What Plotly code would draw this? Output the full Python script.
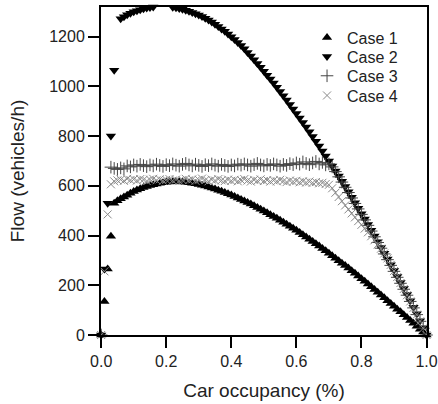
import plotly.graph_objects as go

occupancy = [round(i * 0.01, 2) for i in range(101)]

case1 = [0, 135, 265, 397, 530, 540, 548, 555, 562, 570,
         577, 583, 588, 593, 597, 601, 604, 607, 610, 612,
         614, 615, 616, 616, 616, 615, 614, 612, 610, 608,
         605, 602, 599, 595, 591, 587, 582, 578, 573, 568,
         563, 557, 551, 545, 539, 533, 527, 520, 513, 506,
         499, 492, 484, 477, 469, 461, 453, 445, 437, 429,
         421, 412, 403, 394, 385, 376, 367, 358, 348, 339,
         329, 319, 309, 299, 289, 279, 269, 258, 248, 237,
         226, 216, 205, 194, 183, 172, 161, 150, 138, 127,
         116, 104, 93, 81, 70, 58, 47, 35, 23, 12,
         0]

case2 = [0, 265, 530, 800, 1065, 1325, 1272, 1280, 1288, 1294,
         1300, 1304, 1308, 1312, 1315, 1317, 1319, 1320, 1321, 1321,
         1321, 1320, 1318, 1316, 1313, 1310, 1306, 1302, 1297, 1292,
         1287, 1281, 1274, 1267, 1259, 1250, 1241, 1231, 1221, 1210,
         1199, 1188, 1176, 1164, 1151, 1136, 1122, 1107, 1092, 1077,
         1061, 1045, 1029, 1013, 996, 979, 962, 945, 927, 909,
         891, 873, 855, 836, 817, 798, 779, 760, 740, 720,
         700, 680, 660, 639, 618, 597, 576, 554, 532, 510,
         488, 466, 444, 421, 398, 375, 352, 329, 306, 283,
         259, 235, 211, 187, 163, 138, 112, 85, 57, 29,
         0]

occupancy3 = [0.0] + occupancy[3:]
case3 = [0, 675, 670, 666, 672, 668, 680, 676,
         684, 679, 686, 681, 677, 684, 680, 687, 682, 678,
         685, 681, 688, 683, 679, 686, 690, 684, 680, 687,
         682, 678, 685, 681, 688, 683, 679, 686, 682, 678,
         684, 680, 687, 683, 688, 684, 679, 685, 690, 684,
         680, 686, 682, 688, 684, 679, 686, 682, 689, 685,
         692, 687, 696, 690, 685, 692, 698, 688, 694, 684,
         688, 676, 657, 636, 615, 594, 573, 551, 529, 507,
         485, 463, 441, 418, 395, 372, 349, 326, 303, 280,
         256, 232, 208, 184, 160, 135, 109, 82, 55, 27,
         0]

case4 = [0, 256, 485, 606, 618, 622, 625, 620, 628, 623,
         626, 621, 627, 624, 619, 625, 628, 622, 626, 620,
         624, 627, 621, 625, 619, 623, 628, 622, 626, 620,
         624, 629, 623, 618, 625, 621, 627, 622, 619, 625,
         620, 624, 618, 623, 627, 621, 617, 624, 620, 626,
         619, 623, 617, 622, 618, 624, 619, 615, 621, 617,
         620, 614, 618, 613, 617, 612, 615, 610, 612, 607,
         604, 590, 572, 555, 538, 521, 505, 489, 473, 458,
         443, 428, 413, 397, 381, 364, 347, 328, 308, 282,
         257, 233, 209, 185, 160, 135, 109, 82, 55, 27,
         0]

y_ticks = [0, 200, 400, 600, 800, 1000, 1200]
x_ticks = [0.0, 0.2, 0.4, 0.6, 0.8, 1.0]

FONT = "Liberation Sans, Arial, sans-serif"

fig = go.Figure()
fig.add_trace(go.Scatter(
    x=occupancy, y=case1, mode="markers", name="Case 1", legend="legend",
    marker=dict(symbol="triangle-up", size=9, color="black", line=dict(width=0)),
    cliponaxis=False))
fig.add_trace(go.Scatter(
    x=occupancy, y=case2, mode="markers", name="Case 2", legend="legend2",
    marker=dict(symbol="triangle-down", size=9, color="black", line=dict(width=0)),
    cliponaxis=False))
fig.add_trace(go.Scatter(
    x=occupancy3, y=case3, mode="markers", name="Case 3", legend="legend3",
    marker=dict(symbol="cross-thin", size=9, color="#444444",
                line=dict(width=1, color="#444444")),
    cliponaxis=False))
fig.add_trace(go.Scatter(
    x=occupancy, y=case4, mode="markers", name="Case 4", legend="legend4",
    marker=dict(symbol="x-thin", size=8, color="#8a8a8a",
                line=dict(width=1, color="#8a8a8a")),
    cliponaxis=False))

leg_common = dict(x=0.632, xanchor="left", yanchor="middle",
                  bgcolor="rgba(0,0,0,0)", borderwidth=0,
                  font=dict(family=FONT, size=16, color="#222222"))

fig.update_layout(
    width=438, height=404,
    margin=dict(l=101, r=11, t=7, b=69, autoexpand=False),
    paper_bgcolor="white", plot_bgcolor="white",
    font=dict(family=FONT, size=16, color="#222222"),
    showlegend=True,
    legend=dict(y=0.907, **leg_common),
    legend2=dict(y=0.849, **leg_common),
    legend3=dict(y=0.790, **leg_common),
    legend4=dict(y=0.730, **leg_common),
)
fig.update_xaxes(
    range=[-0.0005, 1.0015], tickvals=x_ticks, ticktext=[f"{v:.1f}" for v in x_ticks],
    showgrid=False, zeroline=False, automargin=False,
    showline=True, linewidth=2, linecolor="black", mirror=True,
    ticks="outside", ticklen=11, tickwidth=2, tickcolor="black",
    title=dict(text="Car occupancy (%)", standoff=14),
)
fig.update_yaxes(
    range=[0, 1319], tickvals=y_ticks,
    showgrid=False, zeroline=False, automargin=False,
    showline=True, linewidth=2, linecolor="black", mirror=True,
    ticks="outside", ticklen=11, tickwidth=2, tickcolor="black",
    title=dict(text="Flow (vehicles/h)", standoff=20),
)

fig.write_html("out.html", config={"displayModeBar": False},
               post_script="document.body.style.margin='0px';document.body.style.padding='0px';")
